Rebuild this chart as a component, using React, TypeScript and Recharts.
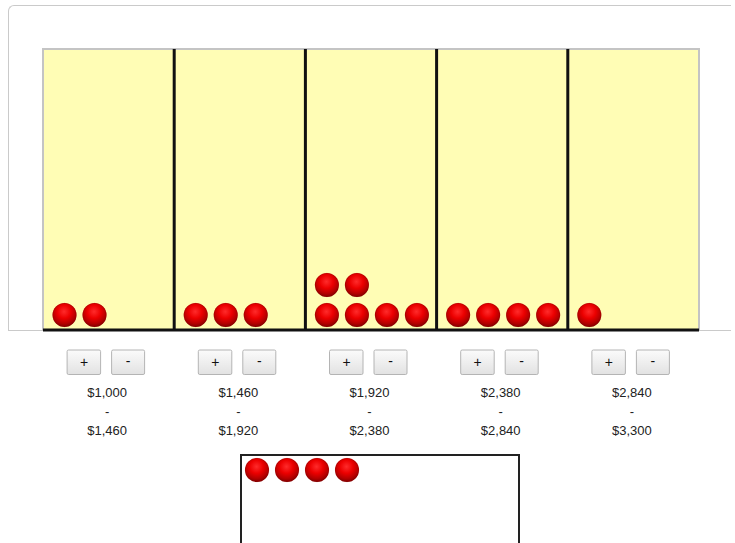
import React from 'react';
import {
  ScatterChart,
  Scatter,
  XAxis,
  YAxis,
  ReferenceArea,
  ReferenceLine
} from 'recharts';

// bin edges in dollars, and how many balls sit in each bin
const binEdges = [1000, 1460, 1920, 2380, 2840, 3300];
const binCounts = [2, 3, 6, 4, 1];
// balls still waiting in the pool box below
const poolCount = 4;

const BALLS_PER_ROW = 4;
const ROWS = 9.367; // plot height / ball pitch
const binTicks = binCounts.map((_, i) => i + 0.5);

const money = (v: number) => '$' + v.toLocaleString('en-US');

// build ball points from the counts (bin units on x, rows on y)
const ballData = binCounts.flatMap((n, b) =>
  Array.from({ length: n }, (_, i) => ({
    x: b + 0.164 + (i % BALLS_PER_ROW) * 0.2287,
    y: 0.5 + Math.floor(i / BALLS_PER_ROW)
  }))
);
const poolData = Array.from({ length: poolCount }, (_, i) => ({ x: 0.5 + i, y: 0.467 }));

const Ball = (props: any) => {
  const { cx, cy } = props;
  if (cx == null || cy == null) return null;
  return (
    <g>
      <circle cx={cx} cy={cy} r={12} fill="url(#ballGrad)" />
      <circle cx={cx} cy={cy} r={11.7} fill="none" stroke="#8c0000" strokeOpacity={0.5} strokeWidth={0.6} />
    </g>
  );
};

const BinTick = (props: any) => {
  const { x, y, payload } = props;
  const i = Math.round(payload.value - 0.5);
  const lo = binEdges[i];
  const hi = binEdges[i + 1];
  return (
    <g fontFamily="'Liberation Sans', Arial, sans-serif" fontSize={13} fill="#222">
      <rect x={x - 41.5} y={y + 20} width={33.5} height={24.5} rx={1.5} fill="url(#btnGrad)" stroke="#b4b4b4" />
      <text x={x - 24.5} y={y + 37} textAnchor="middle" fontSize={14} fill="#111">+</text>
      <rect x={x + 3} y={y + 20} width={33} height={24.5} rx={1.5} fill="url(#btnGrad)" stroke="#b4b4b4" />
      <text x={x + 19.5} y={y + 36} textAnchor="middle" fontSize={14} fill="#111">-</text>
      <text x={x - 1.5} y={y + 67} textAnchor="middle">{money(lo)}</text>
      <text x={x - 1.5} y={y + 86} textAnchor="middle">-</text>
      <text x={x - 1.5} y={y + 105} textAnchor="middle">{money(hi)}</text>
    </g>
  );
};

const App: React.FC = () => {
  return (
    <div style={{ position: 'absolute', left: 0, top: 0, width: 735, height: 543, background: '#fff', overflow: 'hidden' }}>
      {/* shared gradients */}
      <svg width={0} height={0} style={{ position: 'absolute' }}>
        <defs>
          <radialGradient id="ballGrad" cx="48%" cy="36%" r="62%">
            <stop offset="0%" stopColor="#ff2b2b" />
            <stop offset="45%" stopColor="#ec0000" />
            <stop offset="80%" stopColor="#b50000" />
            <stop offset="100%" stopColor="#880000" />
          </radialGradient>
          <linearGradient id="btnGrad" x1="0" y1="0" x2="0" y2="1">
            <stop offset="0%" stopColor="#fbfbfb" />
            <stop offset="100%" stopColor="#e2e2e2" />
          </linearGradient>
        </defs>
      </svg>

      {/* outer frame */}
      <div
        style={{
          position: 'absolute',
          left: 8,
          top: 5,
          width: 722,
          height: 324,
          borderTop: '1.5px solid #cacaca',
          borderLeft: '1.5px solid #cacaca',
          borderBottom: '1.5px solid #cacaca',
          borderTopLeftRadius: 6
        }}
      />

      <div style={{ position: 'absolute', left: 0, top: 0 }}>
        <ScatterChart width={735} height={445} margin={{ top: 49, right: 36, left: 43, bottom: 0 }}>
          <XAxis
            type="number"
            dataKey="x"
            domain={[0, 5]}
            ticks={binTicks}
            tick={<BinTick />}
            axisLine={false}
            tickLine={false}
            tickSize={0}
            tickMargin={0}
            height={115}
            interval={0}
          />
          <YAxis type="number" dataKey="y" domain={[0, ROWS]} hide />
          <ReferenceArea x1={0} x2={5} y1={0} y2={ROWS} fill="#fffdb5" fillOpacity={1} stroke="#c4c4c4" strokeWidth={2} ifOverflow="visible" />
          {[1, 2, 3, 4].map(v => (
            <ReferenceLine key={v} x={v} stroke="#111" strokeWidth={3} ifOverflow="visible" />
          ))}
          <ReferenceLine y={0} stroke="#111" strokeWidth={3} ifOverflow="visible" />
          <Scatter data={ballData} shape={<Ball />} isAnimationActive={false} />
        </ScatterChart>
      </div>

      {/* pool box */}
      <div style={{ position: 'absolute', left: 240, top: 454, width: 276, height: 100, border: '2px solid #222' }}>
        <ScatterChart width={276} height={87} margin={{ top: 0, right: 0, left: 0, bottom: 0 }}>
          <XAxis type="number" dataKey="x" domain={[0, 9.2]} hide />
          <YAxis type="number" dataKey="y" domain={[0, 2.9]} reversed hide />
          <Scatter data={poolData} shape={<Ball />} isAnimationActive={false} />
        </ScatterChart>
      </div>
    </div>
  );
};

export default App;
